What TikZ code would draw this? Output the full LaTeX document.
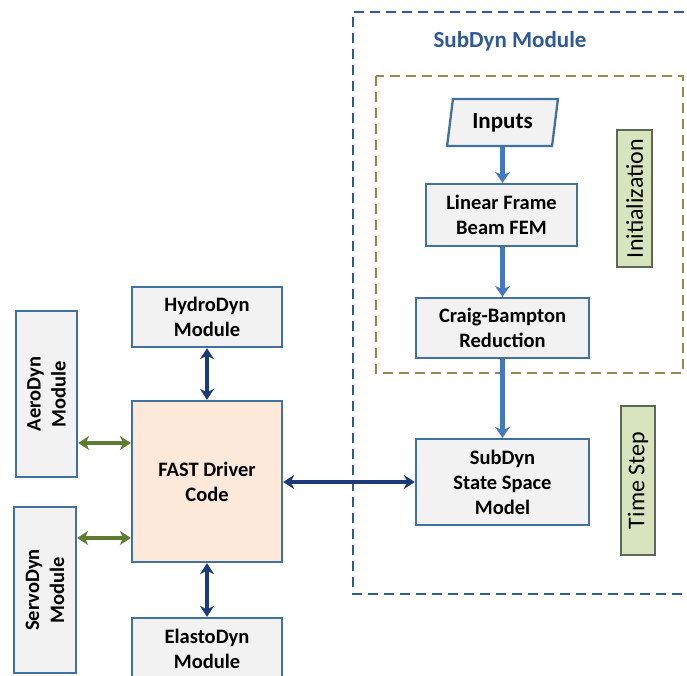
\documentclass[tikz,border=0pt]{standalone}
\usepackage{fontspec}
\setmainfont{Carlito}
\usetikzlibrary{arrows.meta,shapes.geometric}
\definecolor{boxblue}{HTML}{41719C}
\definecolor{boxfill}{HTML}{F2F2F2}
\definecolor{fastfill}{HTML}{FCE9DA}
\definecolor{navy}{HTML}{1B3A7A}
\definecolor{leaf}{HTML}{5E7B31}
\definecolor{lightarrow}{HTML}{4479C0}
\definecolor{outerdash}{HTML}{2E5A96}
\definecolor{olivedash}{HTML}{948A54}
\definecolor{tagfill}{HTML}{D7E4BD}
\definecolor{tagdraw}{HTML}{5F6654}
\tikzset{
  modbox/.style={draw=boxblue, line width=2.3pt, fill=boxfill, align=center, inner sep=0pt,
    font=\fontsize{20.5}{25}\selectfont\bfseries},
  fastbox/.style={modbox, fill=fastfill},
  tagbox/.style={draw=tagdraw, line width=1.8pt, fill=tagfill, inner sep=0pt, rotate=90,
    font=\fontsize{24}{28}\selectfont},
  navyarrow/.style={draw=navy, line width=3.6pt, {Stealth[length=11pt,width=14pt]}-{Stealth[length=11pt,width=14pt]}},
  greenarrow/.style={draw=leaf, line width=3.6pt, {Stealth[length=11pt,width=14pt]}-{Stealth[length=11pt,width=14pt]}},
  bluearrow/.style={draw=lightarrow, line width=4.2pt, -{Stealth[length=11pt,width=15pt]}},
}
\begin{document}
\begin{tikzpicture}[x=1pt,y=-1pt]
\useasboundingbox (0,0) rectangle (687,675);
\clip (0,0) rectangle (687,675);
% outer SubDyn dashed frame (open on the right)
\draw[outerdash, line width=2.2pt, dash pattern=on 10pt off 6pt] (700,12) -- (353,12) -- (353,594) -- (700,594);
\node[text=outerdash, font=\fontsize{23}{27}\selectfont\bfseries] (title) at (510,41) {SubDyn Module};
% initialization dashed frame
\draw[olivedash, line width=2.2pt, dash pattern=on 10pt off 6pt] (376,76) rectangle (683,373);

% left side
\node[modbox, minimum width=150pt, minimum height=60pt] (hydro) at (207,317) {HydroDyn\\Module};
\node[fastbox, minimum width=150pt, minimum height=161pt] (fast) at (207,481.5) {FAST Driver\\Code};
\node[modbox, minimum width=150pt, minimum height=62pt] (elasto) at (207,649) {ElastoDyn\\Module};
\node[modbox, rotate=90, minimum width=166pt, minimum height=61pt] (aero) at (46.5,394) {AeroDyn\\Module};
\node[modbox, rotate=90, minimum width=166pt, minimum height=62pt] (servo) at (45,590) {ServoDyn\\Module};

% SubDyn side
\node[draw=boxblue, line width=2.3pt, fill=boxfill, trapezium, trapezium left angle=79, trapezium right angle=101,
  trapezium stretches=true, minimum width=111pt, minimum height=47pt, inner sep=0pt,
  font=\fontsize{23}{27}\selectfont\bfseries] (inputs) at (502.5,122.5) {Inputs};
\node[modbox, minimum width=151pt, minimum height=62pt] (lfem) at (501.5,215) {Linear Frame\\Beam FEM};
\node[modbox, minimum width=173pt, minimum height=60pt] (craig) at (502.5,328) {Craig-Bampton\\Reduction};
\node[modbox, minimum width=173pt, minimum height=86pt] (subdyn) at (502.5,482) {SubDyn\\State Space\\Model};

\node[tagbox, minimum width=137pt, minimum height=35pt] (init) at (634.5,198.5) {Initialization};
\node[tagbox, minimum width=149pt, minimum height=34pt] (tstep) at (638,480.5) {Time Step};

% connectors
\coordinate (ya) at (0,443);
\coordinate (ys) at (0,538);
\draw[navyarrow] (hydro.south) -- (fast.north);
\draw[navyarrow] (fast.south) -- (elasto.north);
\draw[greenarrow] (aero.south |- ya) -- (fast.west |- ya);
\draw[greenarrow] (servo.south |- ys) -- (fast.west |- ys);
\draw[navyarrow] (fast.east |- subdyn.west) -- (subdyn.west);
\draw[bluearrow] (inputs.south) -- (lfem.north -| inputs.south);
\draw[bluearrow] (lfem.south -| craig.north) -- (craig.north);
\draw[bluearrow] (craig.south) -- (subdyn.north);
\end{tikzpicture}
\end{document}
